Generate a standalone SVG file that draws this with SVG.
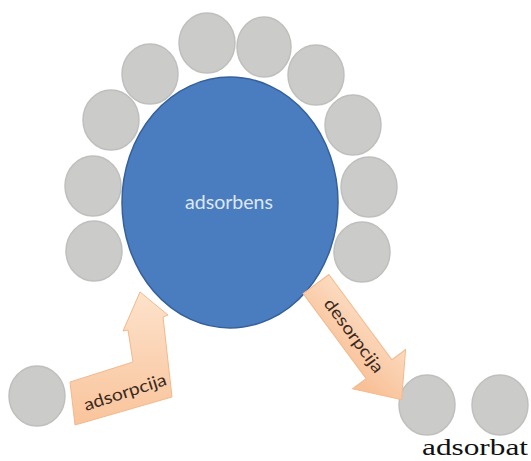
<svg xmlns="http://www.w3.org/2000/svg" width="531" height="461" viewBox="0 0 531 461">
<defs>
<linearGradient id="peachV" x1="0" y1="0" x2="0" y2="1">
<stop offset="0" stop-color="#fde2cb"/>
<stop offset="1" stop-color="#f9c49b"/>
</linearGradient>
<linearGradient id="peachD" x1="0" y1="0" x2="0.4" y2="1">
<stop offset="0" stop-color="#fde3cd"/>
<stop offset="1" stop-color="#f8c096"/>
</linearGradient>
</defs>
<style>
.p{fill:#cbcbc9;stroke:#bfbfbd;stroke-width:1.5}
.ar{stroke:#f3b98c;stroke-width:1}
.al{font-family:Lato,"Open Sans",sans-serif;font-size:17px;fill:#3a2a1e}
</style>
<rect width="531" height="461" fill="#ffffff"/>
<g id="particles">
<ellipse class="p" cx="207" cy="43" rx="28" ry="30"/>
<ellipse class="p" cx="264" cy="47" rx="27" ry="30"/>
<ellipse class="p" cx="150" cy="74" rx="28" ry="30"/>
<ellipse class="p" cx="316" cy="75" rx="28" ry="30"/>
<ellipse class="p" cx="111" cy="120" rx="28" ry="30"/>
<ellipse class="p" cx="353" cy="125" rx="28" ry="30"/>
<ellipse class="p" cx="93" cy="186" rx="28" ry="30"/>
<ellipse class="p" cx="369" cy="187" rx="28" ry="30"/>
<ellipse class="p" cx="94" cy="251" rx="28" ry="30"/>
<ellipse class="p" cx="362" cy="252" rx="28" ry="30"/>
</g>
<g id="adsorbens">
<ellipse cx="230" cy="202.5" rx="108" ry="125.5" fill="#4a7dbf" stroke="#35609c" stroke-width="1.5"/>
<text x="229" y="209" text-anchor="middle" font-family="Lato,'Open Sans',sans-serif" font-size="20" fill="#dde7f3" textLength="88" lengthAdjust="spacingAndGlyphs">adsorbens</text>
</g>
<g id="free-particle">
<ellipse class="p" cx="37" cy="396" rx="28" ry="30"/>
</g>
<g id="adsorbat">
<ellipse class="p" cx="427" cy="405" rx="28" ry="30"/>
<ellipse class="p" cx="500" cy="405" rx="28" ry="30"/>
<text x="422" y="455" font-family="'Liberation Serif','Times New Roman',serif" font-size="23" fill="#111111" textLength="106" lengthAdjust="spacingAndGlyphs">adsorbat</text>
</g>
<g id="connectors">
<g id="adsorpcija">
<polygon class="ar" fill="url(#peachV)" points="75,425 70,382 133,362 128,330 123,331 140,292 168,315 163,317 172,397"/>
<text class="al" x="0" y="6" text-anchor="middle" transform="translate(125,392) rotate(-18)" textLength="86" lengthAdjust="spacingAndGlyphs">adsorpcija</text>
</g>
<g id="desorpcija" transform="translate(316,284) rotate(53.5)">
<polygon class="ar" fill="url(#peachD)" points="0,-16 106,-16 106,-33 144,0 106,33 106,16 0,16"/>
<text class="al" x="64" y="6" text-anchor="middle" textLength="88" lengthAdjust="spacingAndGlyphs">desorpcija</text>
</g>
</g>
</svg>
